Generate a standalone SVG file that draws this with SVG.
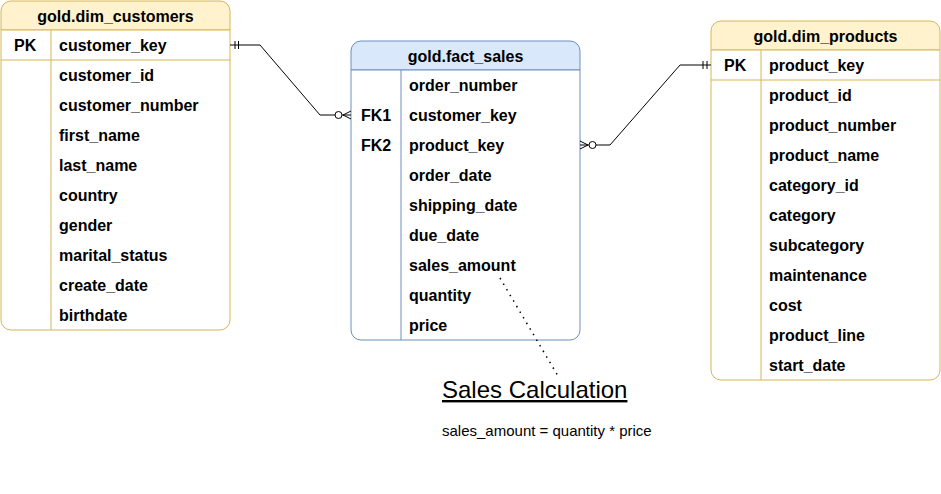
<svg xmlns="http://www.w3.org/2000/svg" width="941" height="494" viewBox="0 0 941 494">
<style>
.t{font-family:"Liberation Sans",Arial,sans-serif;font-size:16px;font-weight:bold;fill:#000}
.h{text-anchor:middle}
.y{fill:#fff2cc;stroke:#d6b656;stroke-width:1}
.yl{stroke:#d6b656;stroke-width:1;fill:none}
.b{fill:#dae8fc;stroke:#6c8ebf;stroke-width:1}
.bl{stroke:#6c8ebf;stroke-width:1;fill:none}
.c{stroke:#000;stroke-width:1;fill:none}
.n{font-family:"Liberation Sans",Arial,sans-serif;fill:#000}
</style>
<rect width="941" height="494" fill="#fff"/>
<g id="dim_customers">
<path class="y" d="M1,30 V11 A10,10 0 0 1 11,1 H220 A10,10 0 0 1 230,11 V30 Z"/>
<path d="M1,30 H230 V320 A10,10 0 0 1 220,330 H11 A10,10 0 0 1 1,320 Z" fill="#fff" stroke="#d6b656"/>
<path class="yl" d="M1,60 H230 M51,30 V330"/>
<text class="t h" x="115.5" y="21.5">gold.dim_customers</text>
<text class="t" x="14" y="51">PK</text>
<text class="t" x="59" y="51">customer_key</text>
<text class="t" x="59" y="81">customer_id</text>
<text class="t" x="59" y="111">customer_number</text>
<text class="t" x="59" y="141">first_name</text>
<text class="t" x="59" y="171">last_name</text>
<text class="t" x="59" y="201">country</text>
<text class="t" x="59" y="231">gender</text>
<text class="t" x="59" y="261">marital_status</text>
<text class="t" x="59" y="291">create_date</text>
<text class="t" x="59" y="321">birthdate</text>
</g>
<g id="fact_sales">
<path class="b" d="M351,70 V51 A10,10 0 0 1 361,41 H570 A10,10 0 0 1 580,51 V70 Z"/>
<path d="M351,70 H580 V330 A10,10 0 0 1 570,340 H361 A10,10 0 0 1 351,330 Z" fill="#fff" stroke="#6c8ebf"/>
<path class="bl" d="M401,70 V340"/>
<text class="t h" x="465.5" y="61.5">gold.fact_sales</text>
<text class="t" x="409" y="91">order_number</text>
<text class="t" x="361" y="121">FK1</text>
<text class="t" x="409" y="121">customer_key</text>
<text class="t" x="361" y="151">FK2</text>
<text class="t" x="409" y="151">product_key</text>
<text class="t" x="409" y="181">order_date</text>
<text class="t" x="409" y="211">shipping_date</text>
<text class="t" x="409" y="241">due_date</text>
<text class="t" x="409" y="271">sales_amount</text>
<text class="t" x="409" y="301">quantity</text>
<text class="t" x="409" y="331">price</text>
</g>
<g id="dim_products">
<path class="y" d="M711,50 V31 A10,10 0 0 1 721,21 H930 A10,10 0 0 1 940,31 V50 Z"/>
<path d="M711,50 H940 V370 A10,10 0 0 1 930,380 H721 A10,10 0 0 1 711,370 Z" fill="#fff" stroke="#d6b656"/>
<path class="yl" d="M711,80 H940 M761,50 V380"/>
<text class="t h" x="825.5" y="41.5">gold.dim_products</text>
<text class="t" x="724" y="71">PK</text>
<text class="t" x="769" y="71">product_key</text>
<text class="t" x="769" y="101">product_id</text>
<text class="t" x="769" y="131">product_number</text>
<text class="t" x="769" y="161">product_name</text>
<text class="t" x="769" y="191">category_id</text>
<text class="t" x="769" y="221">category</text>
<text class="t" x="769" y="251">subcategory</text>
<text class="t" x="769" y="281">maintenance</text>
<text class="t" x="769" y="311">cost</text>
<text class="t" x="769" y="341">product_line</text>
<text class="t" x="769" y="371">start_date</text>
</g>
<g id="connectors">
<path class="c" d="M230,45 H260 L320,115 H335"/>
<path class="c" d="M235,41 V49 M238.5,41 V49"/>
<circle class="c" cx="338.5" cy="115" r="3.5" fill="#fff"/>
<path class="c" d="M342,115 H351 M351,111 L343,115 L351,119"/>
<path class="c" d="M596,145 H610 L680,65 H711"/>
<path class="c" d="M703,61 V69 M707,61 V69"/>
<circle class="c" cx="592.5" cy="145" r="3.5" fill="#fff"/>
<path class="c" d="M580,145 H589 M580,141 L588,145 L580,149"/>
<path d="M500,278 L558,376" stroke="#000" stroke-width="1.5" stroke-dasharray="1.5 5" fill="none"/>
</g>
<g id="note">
<text class="n" x="442" y="398" font-size="24" text-decoration="underline">Sales Calculation</text>
<text class="n" x="442" y="436" font-size="15">sales_amount = quantity * price</text>
</g>
</svg>
